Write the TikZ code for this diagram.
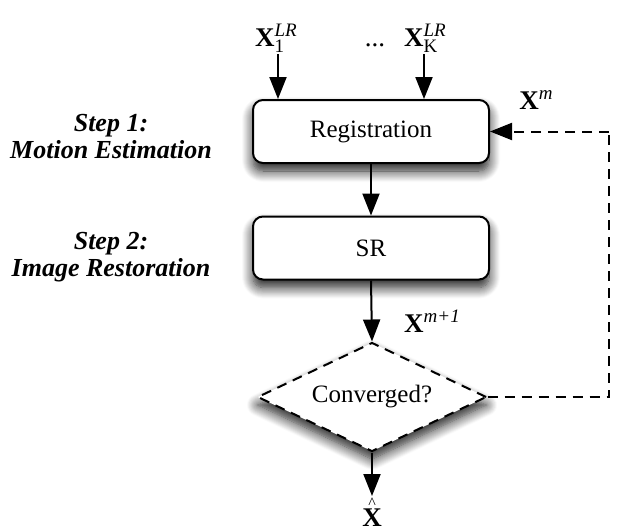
\documentclass[tikz,border=0pt]{standalone}
\usepackage{fontspec}
\setmainfont{Liberation Serif}
\usetikzlibrary{arrows.meta,shapes.geometric,shadows.blur}

% bold X with italic superscript and upright subscript
\newcommand{\boldvar}[2]{\textbf{X}\rlap{\raisebox{-6pt}{\fontsize{19}{19}\selectfont #2}}\raisebox{10pt}{\fontsize{19}{19}\selectfont\itshape #1}}
% bold X with a small detached hat above it
\newcommand{\hatvar}{\ooalign{\textbf{X}\cr\hidewidth\raisebox{18pt}{\fontsize{16}{16}\selectfont\textasciicircum}\hidewidth\cr}}

\begin{document}
\begin{tikzpicture}[x=1pt,y=-1pt,
  softshadow/.style={blur shadow={shadow xshift=0pt, shadow yshift=-8pt, shadow blur steps=12, shadow blur radius=11pt, shadow opacity=90}},
  box/.style={draw, line width=2pt, rounded corners=10pt, fill=white,
    minimum width=236pt, minimum height=63pt, inner sep=0pt,
    font=\fontsize{25}{28}\selectfont, softshadow},
  check/.style={diamond, draw, line width=2pt, dash pattern=on 10pt off 7pt,
    fill=white, aspect=2.1, minimum width=229pt, minimum height=109pt,
    inner sep=0pt, font=\fontsize{25}{28}\selectfont, softshadow},
  arr/.style={line width=2pt, -{Triangle[length=22pt,width=17pt]}},
  dsh/.style={line width=2pt, dash pattern=on 10pt off 7pt},
  steplbl/.style={align=center, font=\fontsize{26}{27}\selectfont\bfseries\itshape},
  var/.style={font=\fontsize{27}{28}\selectfont, inner sep=0pt}
]
\useasboundingbox (0,0) rectangle (617,531);

% processing stages
\node[box] (reg) at (371,131.5) {Registration};
\node[box] (sr) at (371,248) {SR};
\node[check] (conv) at (372,397) {Converged?};

% side labels
\node[steplbl] (s1) at (111,137) {Step 1:\\Motion Estimation};
\node[steplbl] (s2) at (111,257) {Step 2:\\Image Restoration};

% inputs
\node[var, anchor=base] (x1) at (276,46) {\boldvar{LR}{1}};
\node[var, anchor=base] (dots) at (375,46) {...};
\node[var, anchor=base] (xk) at (425,46) {\boldvar{LR}{K}};
\coordinate (in1) at (278,54);
\coordinate (ink) at (424,54);
\draw[arr] (in1) -- (in1 |- reg.north);
\draw[arr] (ink) -- (ink |- reg.north);

% main flow
\draw[arr] (reg) -- (sr);
\draw[arr] (sr.south) -- (conv.north);
\node[var, anchor=base] (xm1) at (432,332) {\boldvar{m+1}{}};

% output
\coordinate (out) at (372,496);
\draw[arr] (conv.south) -- (out);
\node[var, anchor=base] (xhat) at (372,526) {\hatvar};

% feedback loop
\coordinate (fb) at (609,397);
\coordinate (fbtop) at (609,131.5);
\draw[dsh] (conv.east) -- (fb) -- (fbtop);
\draw[dsh, arr] (fbtop) -- (reg.east);
\node[var, anchor=base] (xm) at (536,109) {\boldvar{m}{}};
\end{tikzpicture}
\end{document}
